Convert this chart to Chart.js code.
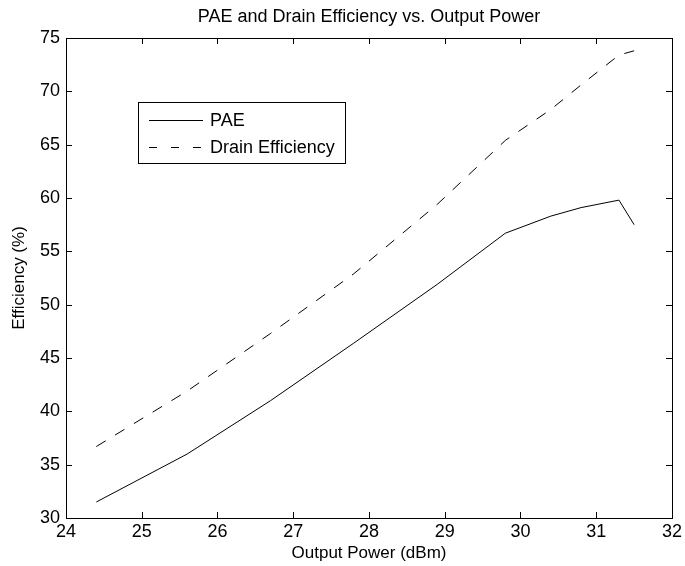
<!DOCTYPE html>
<html>
<head>
<meta charset="utf-8">
<title>PAE and Drain Efficiency vs. Output Power</title>
<script src="https://cdn.jsdelivr.net/npm/chart.js@4/dist/chart.umd.min.js"></script>
<style>
  html, body { margin: 0; padding: 0; background: #fff; }
  #wrap { width: 685px; height: 566px; }
</style>
</head>
<body>
<div id="wrap"><canvas id="grafica" width="685" height="566"></canvas></div>
<script>
// datos
const potencia = [24.4, 25.6, 26.7, 27.8, 28.9, 29.8, 30.4, 30.8, 31.3, 31.5];
const pae = [31.5, 36.0, 41.0, 46.4, 51.9, 56.7, 58.3, 59.1, 59.8, 57.5];
const drenaje = [36.7, 41.9, 47.3, 52.9, 59.4, 65.4, 68.3, 70.6, 73.4, 73.8];
const ticksX = [24, 25, 26, 27, 28, 29, 30, 31, 32];
const ticksY = [30, 35, 40, 45, 50, 55, 60, 65, 70, 75];
const titulo = 'PAE and Drain Efficiency vs. Output Power';

const fuente = '"Liberation Sans", Arial, Helvetica, sans-serif';

function puntos(xs, ys) {
    return xs.map((x, i) => ({ x: x, y: ys[i] }));
}

// caja de ejes con ticks hacia dentro (estilo matlab), titulo centrado sobre los ejes y leyenda
const cajaMatlab = {
    id: 'cajaMatlab',
    afterDraw(chart) {
        const { ctx, chartArea: a, scales } = chart;
        const largo = 6;
        ctx.save();
        ctx.strokeStyle = '#000';
        ctx.lineWidth = 1;
        ctx.beginPath();
        ticksX.forEach(v => {
            const px = Math.round(scales.x.getPixelForValue(v)) + 0.5;
            ctx.moveTo(px, a.bottom); ctx.lineTo(px, a.bottom - largo);
            ctx.moveTo(px, a.top); ctx.lineTo(px, a.top + largo);
        });
        ticksY.forEach(v => {
            const py = Math.round(scales.y.getPixelForValue(v)) + 0.5;
            ctx.moveTo(a.left, py); ctx.lineTo(a.left + largo, py);
            ctx.moveTo(a.right, py); ctx.lineTo(a.right - largo, py);
        });
        ctx.stroke();
        ctx.strokeRect(Math.round(a.left) + 0.5, Math.round(a.top) + 0.5,
            Math.round(a.right - a.left), Math.round(a.bottom - a.top));

        // titulo
        ctx.fillStyle = '#000';
        ctx.font = '18px ' + fuente;
        ctx.textAlign = 'center';
        ctx.textBaseline = 'middle';
        ctx.fillText(titulo, (a.left + a.right) / 2, 17);

        // leyenda
        const lx = 138.5, ly = 102.5, lw = 207, lh = 61;
        ctx.fillStyle = '#fff';
        ctx.fillRect(lx, ly, lw, lh);
        ctx.strokeRect(lx, ly, lw, lh);
        ctx.textAlign = 'left';
        chart.data.datasets.forEach((ds, i) => {
            const y = Math.round(ly + 17 + i * 27) + 0.5;
            ctx.setLineDash(ds.borderDash ? [8, 14] : []);
            ctx.beginPath();
            ctx.moveTo(149, y); ctx.lineTo(203, y);
            ctx.stroke();
            ctx.setLineDash([]);
            ctx.fillStyle = '#000';
            ctx.fillText(ds.label, 210, y + 1);
        });
        ctx.restore();
    }
};

new Chart(document.getElementById('grafica'), {
    type: 'line',
    data: {
        datasets: [
            {
                label: 'PAE',
                data: puntos(potencia, pae),
                borderColor: '#000',
                borderWidth: 1,
                pointRadius: 0,
                tension: 0
            },
            {
                label: 'Drain Efficiency',
                data: puntos(potencia, drenaje),
                borderColor: '#000',
                borderWidth: 1,
                borderDash: [11, 11],
                pointRadius: 0,
                tension: 0
            }
        ]
    },
    options: {
        responsive: false,
        animation: false,
        devicePixelRatio: 1,
        layout: { padding: { left: 0, right: 13, top: 38, bottom: 0 } },
        plugins: {
            legend: { display: false },
            tooltip: { enabled: false },
            title: { display: false }
        },
        scales: {
            x: {
                type: 'linear',
                min: 24,
                max: 32,
                afterFit: s => { s.height = 48; },
                afterBuildTicks: s => { s.ticks = ticksX.map(v => ({ value: v })); },
                grid: { display: false, drawTicks: false },
                border: { display: false },
                ticks: {
                    color: '#000',
                    padding: 3,
                    maxRotation: 0,
                    font: { family: fuente, size: 18 }
                },
                title: {
                    display: true,
                    text: 'Output Power (dBm)',
                    color: '#000',
                    font: { family: fuente, size: 17 },
                    padding: { top: 0, bottom: 2 }
                }
            },
            y: {
                type: 'linear',
                min: 30,
                max: 75,
                afterFit: s => { s.width = 66; },
                afterBuildTicks: s => { s.ticks = ticksY.map(v => ({ value: v })); },
                grid: { display: false, drawTicks: false },
                border: { display: false },
                ticks: {
                    color: '#000',
                    padding: 6,
                    font: { family: fuente, size: 18 }
                },
                title: {
                    display: true,
                    text: 'Efficiency (%)',
                    color: '#000',
                    font: { family: fuente, size: 17 },
                    padding: { top: 9, bottom: 0 }
                }
            }
        }
    },
    plugins: [cajaMatlab]
});
</script>
</body>
</html>
